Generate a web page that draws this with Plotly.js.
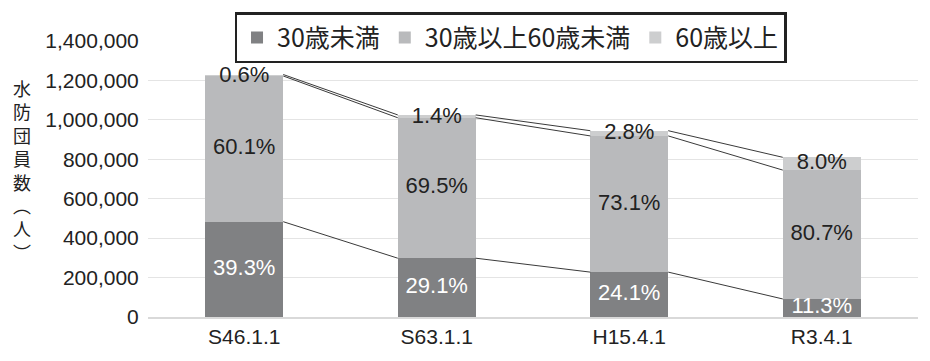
<!DOCTYPE html>
<html>
<head>
<meta charset="utf-8">
<script src="https://cdn.plot.ly/plotly-3.0.1.min.js"></script>
<style>html,body{margin:0;padding:0;background:#fff;}#chart{width:930px;height:361px;}</style>
</head>
<body>
<div id="chart"></div>
<script>
// Data
const categories = ["S46.1.1", "S63.1.1", "H15.4.1", "R3.4.1"];
const under30 = [483400, 298300, 227700, 91500];
const age30to60 = [739200, 712400, 690800, 653700];
const over60 = [7400, 14300, 26500, 64800];
const under30Pct = ["39.3%", "29.1%", "24.1%", "11.3%"];
const age30to60Pct = ["60.1%", "69.5%", "73.1%", "80.7%"];
const over60Pct = ["0.6%", "1.4%", "2.8%", "8.0%"];
const seriesNames = ["30歳未満", "30歳以上60歳未満", "60歳以上"];
const yTickVals = [0, 200000, 400000, 600000, 800000, 1000000, 1200000, 1400000];

const FONT = "Liberation Sans, Arial, Noto Sans CJK JP, sans-serif";
const CJK = "Noto Sans CJK JP, sans-serif";
const colors = ["#808183", "#b9babc", "#cdcecf"];
const barWidth = 0.405;

const traces = [
  {type: "bar", name: seriesNames[0], x: categories, y: under30, marker: {color: colors[0]}, width: barWidth, hoverinfo: "skip"},
  {type: "bar", name: seriesNames[1], x: categories, y: age30to60, marker: {color: colors[1]}, width: barWidth, hoverinfo: "skip"},
  {type: "bar", name: seriesNames[2], x: categories, y: over60, marker: {color: colors[2]}, width: barWidth, hoverinfo: "skip"}
];

// cumulative tops
const c1 = under30.slice();
const c2 = under30.map((v, i) => v + age30to60[i]);
const c3 = c2.map((v, i) => v + over60[i]);

// labels
const lx = [], ly = [], lt = [], lc = [];
categories.forEach((c, i) => {
  lx.push(c); ly.push(under30[i] / 2); lt.push(under30Pct[i]); lc.push("#ffffff");
  lx.push(c); ly.push(c1[i] + age30to60[i] / 2); lt.push(age30to60Pct[i]); lc.push("#222222");
  lx.push(c); ly.push(Math.min(c3[i] - 12000, c2[i] + over60[i] / 2)); lt.push(over60Pct[i]); lc.push("#222222");
});
traces.push({
  type: "scatter", mode: "text", x: lx, y: ly, text: lt,
  textposition: "middle center",
  textfont: {family: FONT, size: 22, color: lc},
  showlegend: false, hoverinfo: "skip", cliponaxis: false
});

// series lines between bars
const shapes = [];
[c1, c2, c3].forEach(arr => {
  for (let i = 0; i < categories.length - 1; i++) {
    shapes.push({
      type: "line", xref: "x", yref: "y",
      x0: i + barWidth / 2, x1: i + 1 - barWidth / 2,
      y0: arr[i], y1: arr[i + 1],
      line: {color: "#3a3a3a", width: 1}
    });
  }
});

const layout = {
  width: 930, height: 361,
  margin: {l: 148, r: 12, t: 39, b: 44},
  paper_bgcolor: "#ffffff", plot_bgcolor: "#ffffff",
  barmode: "stack",
  font: {family: FONT, size: 21, color: "#222222"},
  showlegend: true,
  legend: {
    orientation: "h", x: 0.4708, xanchor: "center", y: 1.104, yanchor: "top",
    bgcolor: "#ffffff", bordercolor: "#222222", borderwidth: 2.5,
    font: {family: CJK, size: 25, color: "#222222"},
    traceorder: "normal"
  },
  xaxis: {
    type: "category", range: [-0.5, 3.5],
    showline: true, linecolor: "#d9d9d9", linewidth: 2,
    showgrid: false, zeroline: false, ticks: "",
    tickfont: {family: FONT, size: 21, color: "#222222"}
  },
  yaxis: {
    range: [0, 1400000], tickvals: yTickVals, tickformat: ",d",
    showgrid: true, gridcolor: "#e4e4e4", gridwidth: 1,
    zeroline: false, showline: false,
    ticks: "outside", ticklen: 4, tickcolor: "rgba(0,0,0,0)",
    tickfont: {family: FONT, size: 21, color: "#222222"}
  },
  shapes: shapes,
  annotations: [{
    xref: "paper", yref: "paper", x: -0.1636, y: 0.532,
    xanchor: "center", yanchor: "middle", showarrow: false,
    text: "水<br>防<br>団<br>員<br>数<br>︵<br>人<br>︶",
    font: {family: CJK, size: 18, color: "#222222"}
  }]
};

Plotly.newPlot("chart", traces, layout, {displayModeBar: false, staticPlot: true});
</script>
</body>
</html>
